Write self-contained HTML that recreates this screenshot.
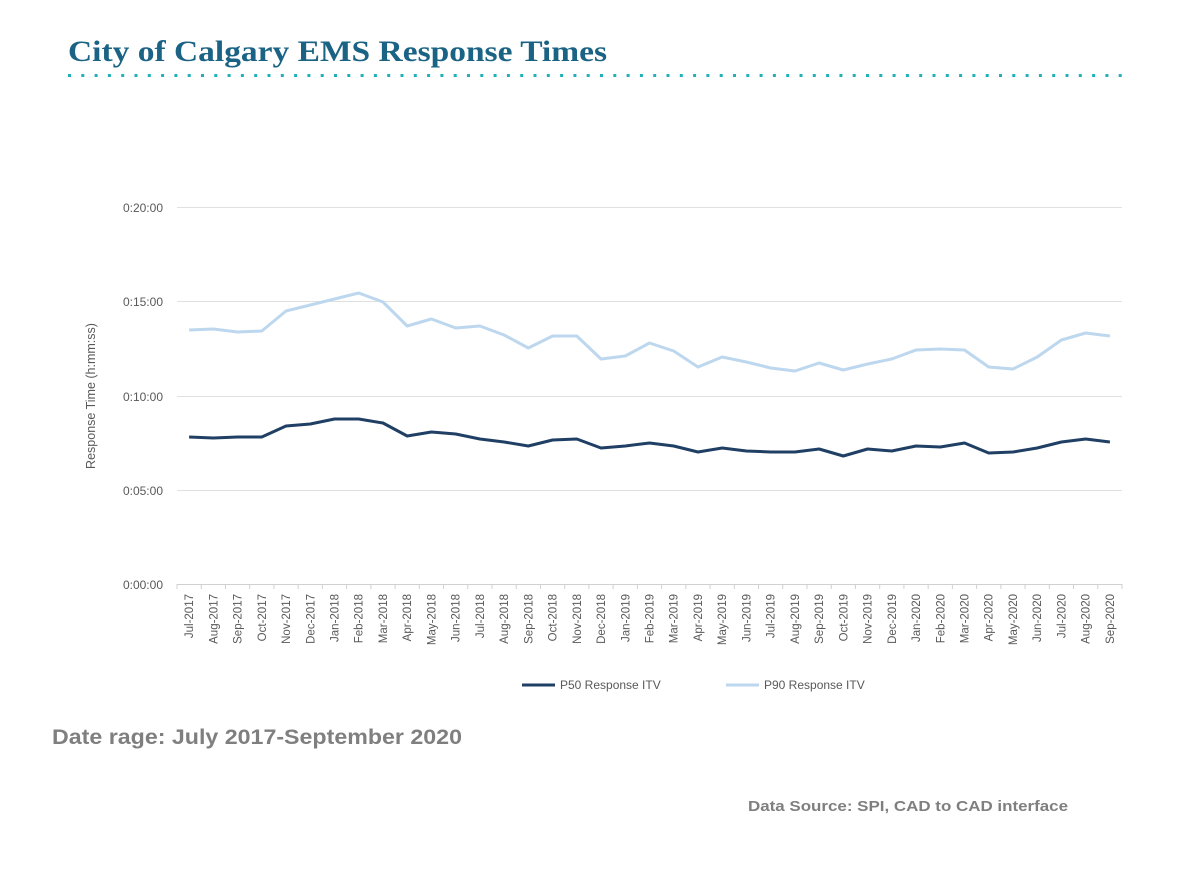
<!DOCTYPE html>
<html><head><meta charset="utf-8"><style>
body{margin:0;background:#fff;width:1187px;height:889px;overflow:hidden;position:relative;font-family:"Liberation Sans",sans-serif}
</style></head><body>
<svg width="1187" height="889" xmlns="http://www.w3.org/2000/svg" style="position:absolute;left:0;top:0">
<text x="68" y="61" font-family="Liberation Serif" font-weight="bold" font-size="30" fill="#1b6384" textLength="539" lengthAdjust="spacingAndGlyphs">City of Calgary EMS Response Times</text>
<g id="dots" fill="#22b0b8"></g>
<g stroke="#e0e0e0" stroke-width="1">
<line x1="177" y1="207.5" x2="1122" y2="207.5"/>
<line x1="177" y1="301.5" x2="1122" y2="301.5"/>
<line x1="177" y1="396.5" x2="1122" y2="396.5"/>
<line x1="177" y1="490.5" x2="1122" y2="490.5"/>
<line x1="177" y1="584.5" x2="1122" y2="584.5" stroke="#d0d0d0"/>
</g>
<g id="ticks" stroke="#d0d0d0"></g>
<g font-size="12" fill="#595959" text-anchor="end">
<text x="163" y="212">0:20:00</text>
<text x="163" y="306">0:15:00</text>
<text x="163" y="401">0:10:00</text>
<text x="163" y="495">0:05:00</text>
<text x="163" y="589">0:00:00</text>
</g>
<text transform="translate(95,396) rotate(-90)" font-size="12.5" fill="#595959" text-anchor="middle">Response Time (h:mm:ss)</text>
<g id="xl" font-size="11.5" fill="#595959" text-anchor="end"></g>
<polyline id="p90" fill="none" stroke="#bdd7ee" stroke-width="3" stroke-linejoin="round"/>
<polyline id="p50" fill="none" stroke="#203f64" stroke-width="3" stroke-linejoin="round"/>
<line x1="522" y1="685" x2="555" y2="685" stroke="#203f64" stroke-width="3"/>
<text x="560" y="689" font-size="12" fill="#595959">P50 Response ITV</text>
<line x1="726" y1="685" x2="759" y2="685" stroke="#bdd7ee" stroke-width="3"/>
<text x="764" y="689" font-size="12" fill="#595959">P90 Response ITV</text>
<text x="52" y="744" font-size="21" font-weight="bold" fill="#7f7f7f" textLength="410" lengthAdjust="spacingAndGlyphs">Date rage: July 2017-September 2020</text>
<text x="748" y="811" font-size="15" font-weight="bold" fill="#7f7f7f" textLength="320" lengthAdjust="spacingAndGlyphs">Data Source: SPI, CAD to CAD interface</text>
</svg>
<script>
var ns="http://www.w3.org/2000/svg";
var d=document.getElementById("dots");
for(var x=68;x<1122;x+=13.3){var r=document.createElementNS(ns,"rect");r.setAttribute("x",x.toFixed(1));r.setAttribute("y",74);r.setAttribute("width",3);r.setAttribute("height",3);d.appendChild(r);}
var m=["Jul","Aug","Sep","Oct","Nov","Dec","Jan","Feb","Mar","Apr","May","Jun"];
var labels=[];for(var i=0;i<39;i++){var mi=i%12;var y=2017+Math.floor((i+6)/12);labels.push(m[mi]+"-"+y);}
var p90=[330,329,332,331,311,305,299,293,302,326,319,328,326,335,348,336,336,359,356,343,351,367,357,362,368,371,363,370,364,359,350,349,350,367,369,357,340,333,336];
var p50=[437,438,437,437,426,424,419,419,423,436,432,434,439,442,446,440,439,448,446,443,446,452,448,451,452,452,449,456,449,451,446,447,443,453,452,448,442,439,442];
var w=(1122-177)/39,a="",b="",t=document.getElementById("ticks"),xl=document.getElementById("xl");
for(var i=0;i<39;i++){var cx=177+w/2+i*w;a+=cx.toFixed(1)+","+p90[i]+" ";b+=cx.toFixed(1)+","+p50[i]+" ";
var tx=document.createElementNS(ns,"text");tx.setAttribute("transform","translate("+(cx+4).toFixed(1)+",594) rotate(-90)");tx.textContent=labels[i];xl.appendChild(tx);}
for(var i=0;i<=39;i++){var x=177+i*w;var l=document.createElementNS(ns,"line");l.setAttribute("x1",x);l.setAttribute("x2",x);l.setAttribute("y1",584);l.setAttribute("y2",589);t.appendChild(l);}
document.getElementById("p90").setAttribute("points",a);
document.getElementById("p50").setAttribute("points",b);
</script>
</body></html>
